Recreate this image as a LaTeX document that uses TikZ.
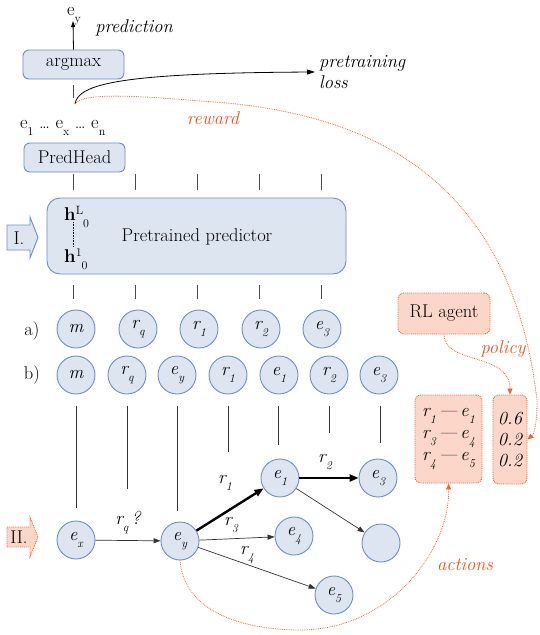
\documentclass[tikz,border=0pt]{standalone}
\usepackage{fontspec}
\usetikzlibrary{arrows.meta,calc}
\definecolor{bfill}{RGB}{220,229,240}
\definecolor{bline}{RGB}{108,142,195}
\definecolor{ofill}{RGB}{252,214,200}
\definecolor{oline}{RGB}{240,100,45}
\definecolor{otext}{RGB}{232,84,30}
\newcommand\sbs[1]{\raisebox{-7pt}{\fontsize{12}{12}\selectfont #1}}
\newcommand\sps[1]{\raisebox{6pt}{\fontsize{12}{12}\selectfont #1}}
\begin{document}
\begin{tikzpicture}[x=1pt,y=-1pt, font=\fontsize{18.5}{21}\selectfont,
 bbox/.style={draw=bline, fill=bfill, rounded corners=6pt, line width=0.9pt, inner sep=0pt},
 circ/.style={circle, draw=bline, fill=bfill, line width=0.9pt, minimum size=38pt, inner sep=0pt, font=\fontsize{18.5}{21}\selectfont\itshape},
 obox/.style={draw=oline, fill=ofill, densely dotted, rounded corners=6pt, line width=0.9pt, inner sep=0pt},
 tick/.style={draw=black!70, line width=0.8pt},
 edge/.style={-{Triangle[length=7pt,width=5pt]}, line width=0.7pt, draw=black!80},
 thk/.style={-{Triangle[length=9pt,width=7pt]}, line width=2.4pt},
 olink/.style={draw=oline, densely dotted, line width=0.8pt, -{Triangle[length=6pt,width=5pt]}},
 olab/.style={text=otext, font=\fontsize{18.5}{21}\selectfont\itshape},
 lab/.style={font=\fontsize{18.5}{21}\selectfont\itshape},
]
\useasboundingbox (0,0) rectangle (539,635);

% top
\node[bbox, minimum width=101pt, minimum height=29pt] (argmax) at (73.5,64.5) {argmax};
\node[anchor=base west, inner sep=0pt] (eytop) at (67,15) {e\sbs{y}};
\coordinate (etip) at (73,21);
\draw[-{Triangle[length=6pt,width=4pt]}, line width=0.8pt] (argmax.north) -- (etip);
\node[lab] (pred) at (134,28) {prediction};
\draw[tick] (73,85) -- (73,98);
\coordinate (cs) at (75,104);
\node[lab, align=left, anchor=west, inner sep=4pt] (ploss) at (315,72) {pretraining\\loss};
\draw[-{Triangle[length=8pt,width=5pt]}, line width=0.8pt] (cs) .. controls (78,84) and (120,73) .. (ploss.west);
\node[olab] (rew) at (213,118) {reward};
\node[anchor=base west, inner sep=0pt] (elist) at (20,128) {e\sbs{1} … e\sbs{x} … e\sbs{n}};

% PredHead
\node[bbox, minimum width=101pt, minimum height=29pt] (phead) at (74.5,157.5) {PredHead};
\foreach \x in {73,135,197,259,321} \draw[tick] (\x,174) -- (\x,190);

% predictor
\node[bbox, rounded corners=13pt, minimum width=299pt, minimum height=76pt] (predictor) at (196.5,236) {};
\node (ptext) at (197,237) {Pretrained predictor};
\node[anchor=base west, inner sep=0pt] (hL) at (64,220) {\textbf{h}\sps{L}\sbs{0}};
\node[anchor=base west, inner sep=0pt] (h1) at (64,262) {\textbf{h}\sps{1}\sbs{0}};
\draw[densely dotted, line width=0.6pt] (73,222) -- (73,247);
\draw[draw=bline, fill=bfill, line width=0.9pt] (7,225) -- (30,225) -- (30,217) -- (38,237.5) -- (30,258) -- (30,250) -- (7,250) -- cycle;
\node (one) at (19,238) {I.};
\foreach \x in {73,135,197,259,321} \draw[tick] (\x,285) -- (\x,299);

% row a
\node (la) at (32,331) {a)};
\node[circ] (a1) at (76,329) {m};
\node[circ] (a2) at (138,329) {r\sbs{q}};
\node[circ] (a3) at (199,329) {r\sbs{1}};
\node[circ] (a4) at (261,329) {r\sbs{2}};
\node[circ] (a5) at (322,329) {e\sbs{3}};

% row b
\node (lb) at (32,375) {b)};
\node[circ] (b1) at (76,375) {m};
\node[circ] (b2) at (127,375) {r\sbs{q}};
\node[circ] (b3) at (177,375) {e\sbs{y}};
\node[circ] (b4) at (228,375) {r\sbs{1}};
\node[circ] (b5) at (279,375) {e\sbs{1}};
\node[circ] (b6) at (329,375) {r\sbs{2}};
\node[circ] (b7) at (379,375) {e\sbs{3}};
\foreach \x/\y in {76/508,127/489,177/511,228/452,278/445,329/433,380/443} \draw[line width=0.8pt, black!80] (\x,406) -- (\x,\y);

% graph
\node[circ] (ex) at (76,540) {e\sbs{x}};
\node[circ] (ey) at (180,541) {e\sbs{y}};
\node[circ] (e1) at (280,478) {e\sbs{1}};
\node[circ] (e3) at (378,478) {e\sbs{3}};
\node[circ] (e4) at (294,536) {e\sbs{4}};
\node[circ] (emp) at (381,543) {};
\node[circ] (e5) at (334,595) {e\sbs{5}};
\draw[edge] (ex) -- (ey);
\draw[thk] (ey) -- (e1);
\draw[edge] (ey) -- (e4);
\draw[edge] (ey) -- (e5);
\draw[thk] (e1) -- (e3);
\draw[edge] (e1) -- (emp);
\node[lab] (lrq) at (128,523) {r\sbs{q}\,?};
\node[lab] (lr1) at (225,483) {r\sbs{1}};
\node[lab] (lr3) at (231,525) {r\sbs{3}};
\node[lab] (lr4) at (247,555) {r\sbs{4}};
\node[lab] (lr2) at (325,462) {r\sbs{2}};

% II arrow
\draw[draw=oline, fill=ofill, densely dotted, line width=0.9pt] (7,527) -- (30,527) -- (30,517) -- (38,537) -- (30,557) -- (30,547) -- (7,547) -- cycle;
\node (two) at (19,537) {II.};

% RL side
\node[obox, minimum width=92pt, minimum height=41pt] (rl) at (444,313.5) {RL agent};
\node[obox, minimum width=67pt, minimum height=88pt, align=center, font=\fontsize{18.5}{22}\selectfont\itshape] (act) at (448.5,439) {r\sbs{1}\,—\,e\sbs{1}\\r\sbs{3}\,—\,e\sbs{4}\\r\sbs{4}\,—\,e\sbs{5}};
\node[obox, minimum width=34pt, minimum height=89pt, align=center, font=\fontsize{18.5}{21}\selectfont\itshape] (prob) at (510,439.5) {0.6\\0.2\\0.2};
\node[olab] (pol) at (503,349) {policy};
\node[olab] (actl) at (465,565) {actions};

\draw[olink] (rl.south) .. controls (444,365) and (510,352) .. (prob.north);
\draw[olink] (ey.south) .. controls (185,620) and (260,630) .. (300,630) .. controls (390,630) and (450,550) .. (act.south);
\draw[olink] (cs) .. controls (82,93) and (130,95) .. (200,101) .. controls (360,110) and (510,170) .. (537,400) .. controls (537,425) and (534,434) .. (prob.east);
\end{tikzpicture}
\end{document}
